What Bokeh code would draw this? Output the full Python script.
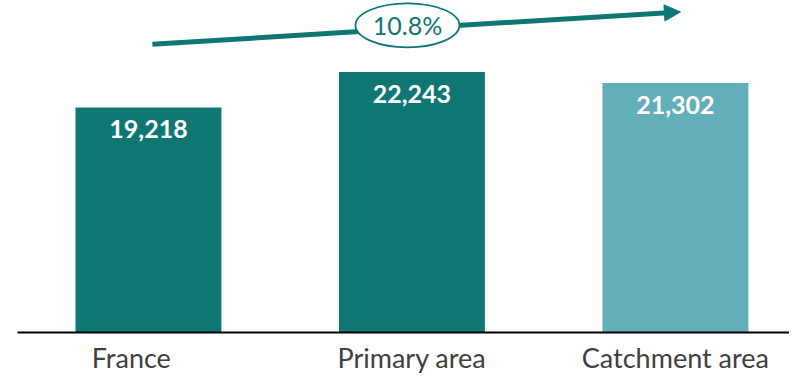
from bokeh.plotting import figure
from bokeh.models import ColumnDataSource, FixedTicker, Arrow, NormalHead, Range1d, CustomJSTickFormatter
from bokeh.core.properties import value
from bokeh.embed import file_html
from bokeh.resources import INLINE

# ---- data ----
categories = ["France", "Primary area", "Catchment area"]
values = [19218, 22243, 21302]
value_labels = ["19,218", "22,243", "21,302"]
bar_colors = ["#0E7774", "#0E7774", "#63AFB9"]
growth_label = "10.8%"

# ---- styling / layout ----
TEAL = "#0E7774"
TEXT_GREY = "#404040"
label_shift = [-0.065, 0.0, 0.0]   # horizontal nudge of category labels (in slot units)

idx = list(range(len(categories)))
ymax = max(values)
src = ColumnDataSource(dict(x=idx, top=values, label=value_labels, color=bar_colors))

p = figure(width=789, height=376, output_backend="svg", toolbar_location=None,
           x_range=Range1d(-0.497, 2.433), y_range=Range1d(0, ymax * 1.2748),
           min_border_left=17, min_border_right=0, min_border_top=0, min_border_bottom=42)
p.outline_line_color = None
p.xgrid.visible = False
p.ygrid.visible = False
p.yaxis.visible = False
p.background_fill_color = "white"
p.border_fill_color = "white"

p.vbar(x="x", top="top", bottom=0, width=0.554, fill_color="color", line_color=None, source=src)

p.text(x="x", y="top", text="label", source=src, text_color="white",
       text_font=value("Lato"), text_font_style="bold", text_font_size="25px",
       text_align="center", text_baseline="middle", y_offset=22)

# growth arrow
arrow = Arrow(x_start=0.015, y_start=ymax * 1.1069, x_end=2.019, y_end=ymax * 1.2309,
              line_color=TEAL, line_width=5,
              end=NormalHead(size=16, fill_color=TEAL, line_color=TEAL, line_width=1),
              level="underlay")
p.add_layout(arrow)

p.ellipse(x=[0.983], y=[ymax * 1.1794], width=104, height=44,
          width_units="screen", height_units="screen",
          fill_color="white", line_color=TEAL, line_width=1.8)
p.text(x=[0.983], y=[ymax * 1.1794], text=[growth_label], text_color=TEAL,
       text_font=value("Lato"), text_font_size="25px",
       text_align="center", text_baseline="middle")

ax = p.xaxis[0]
ax.ticker = FixedTicker(ticks=[i + s for i, s in zip(idx, label_shift)])
ax.formatter = CustomJSTickFormatter(args=dict(labels=categories),
                                     code="return labels[Math.round(tick)];")
ax.axis_line_color = "black"
ax.axis_line_width = 2
ax.major_tick_line_color = None
ax.minor_tick_line_color = None
ax.major_tick_out = 0
ax.major_tick_in = 0
ax.major_label_text_font = "Lato"
ax.major_label_text_font_size = "27px"
ax.major_label_text_color = TEXT_GREY
ax.major_label_standoff = 8

open("out.html", "w").write(file_html(p, INLINE))
